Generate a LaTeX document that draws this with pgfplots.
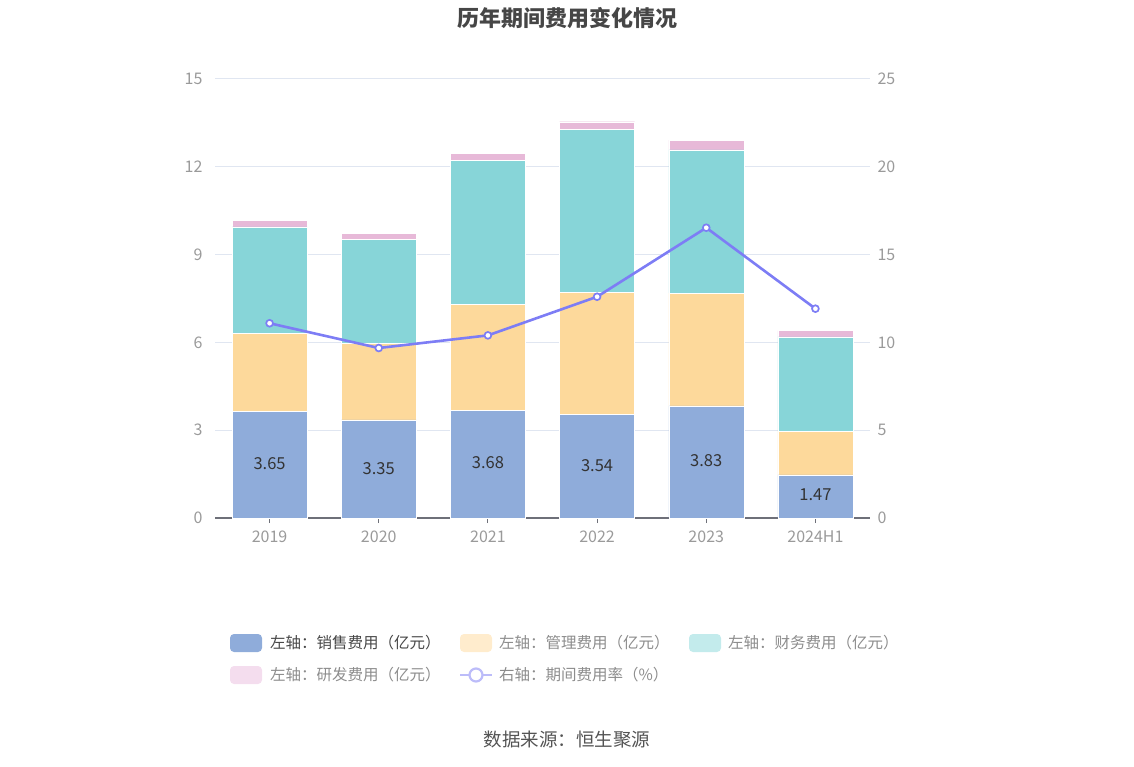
\documentclass[border=0pt]{standalone}
\usepackage{pgfplots}
\pgfplotsset{compat=1.18}
\usepackage{fontspec}
\setmainfont{Noto Sans CJK SC}
\definecolor{salesc}{HTML}{8FACDA}
\definecolor{mgmtc}{HTML}{FDD99B}
\definecolor{finc}{HTML}{87D5D8}
\definecolor{rdc}{HTML}{E7B9D8}
\definecolor{linec}{HTML}{7D7DF5}
\definecolor{mgmtf}{HTML}{FFECCD}
\definecolor{finf}{HTML}{C3EBEC}
\definecolor{rdf}{HTML}{F4DDEE}
\definecolor{linef}{HTML}{BCBCF9}
\definecolor{gridc}{HTML}{E0E6F1}
\definecolor{axisc}{HTML}{6E7079}
\definecolor{tickc}{HTML}{9A9A9A}
\definecolor{titlec}{HTML}{464646}
\definecolor{legdark}{HTML}{464646}
\definecolor{leggray}{HTML}{8C8C8C}
\begin{document}
\begin{tikzpicture}[x=1pt,y=1pt]
\path[use as bounding box] (0,0) rectangle (1134,766);
\pgfplotsset{
  base/.style={
    at={(215pt,248pt)}, anchor=south west,
    width=655pt, height=439pt, scale only axis,
    xmin=-0.5, xmax=5.5,
    /pgf/number format/assume math mode=true,
    ticklabel style={font=\fontsize{16}{19}\selectfont, text=tickc},
  }
}
% bars
\begin{axis}[base,
  ybar stacked, bar width=75pt,
  ymin=0, ymax=15, ytick={0,3,6,9,12,15},
  xtick={0,1,2,3,4,5},
  xticklabels={2019,2020,2021,2022,2023,2024H1},
  axis x line*=bottom, axis y line*=left,
  x axis line style={draw=axisc, line width=1.2pt, -},
  y axis line style={draw=none},
  ytick style={draw=none},
  xtick style={draw=axisc, line width=1pt},
  tick align=outside, major tick length=5pt,
  ymajorgrids, grid style={gridc, line width=1pt},
  yticklabel style={anchor=east, xshift=-4pt},
  xticklabel style={yshift=-4pt},
]
\addplot[fill=salesc, draw=white, line width=0.4pt] coordinates {(0,3.65) (1,3.35) (2,3.68) (3,3.54) (4,3.83) (5,1.47)};
\addplot[fill=mgmtc, draw=white, line width=0.4pt] coordinates {(0,2.66) (1,2.62) (2,3.62) (3,4.18) (4,3.85) (5,1.50)};
\addplot[fill=finc, draw=white, line width=0.4pt] coordinates {(0,3.64) (1,3.56) (2,4.91) (3,5.55) (4,4.90) (5,3.22)};
\addplot[fill=rdc, draw=white, line width=0.4pt] coordinates {(0,0.22) (1,0.20) (2,0.26) (3,0.27) (4,0.33) (5,0.21)};
\end{axis}
% value labels in the middle of the sales bars
\begin{axis}[base, ymin=0, ymax=15, axis lines=none]
\addplot[draw=none, mark=none, nodes near coords, point meta=explicit symbolic,
  every node near coord/.append style={anchor=center, font=\fontsize{16.5}{19}\selectfont, text=black!80}]
  coordinates {(0,1.87) [3.65] (1,1.70) [3.35] (2,1.88) [3.68] (3,1.80) [3.54] (4,1.95) [3.83] (5,0.78) [1.47]};
\end{axis}
% right axis line
\begin{axis}[base,
  ymin=0, ymax=25, ytick={0,5,10,15,20,25},
  axis y line*=right, axis x line=none,
  y axis line style={draw=none}, ytick style={draw=none},
  yticklabel style={anchor=west, xshift=4pt},
]
\addplot[color=linec, line width=2.6pt, mark=*, mark size=3.4pt,
  mark options={fill=white, draw=linec, line width=1.7pt}]
  coordinates {(0,11.09) (1,9.68) (2,10.40) (3,12.60) (4,16.53) (5,11.92)};
\end{axis}
% title
\node[font=\fontsize{22}{26}\selectfont\bfseries, text=titlec] at (567,748) {历年期间费用变化情况};
% legend
\begin{scope}[font=\fontsize{15.5}{18}\selectfont]
\fill[salesc, rounded corners=4pt] (230,114) rectangle (262,132);
\node[anchor=west, inner sep=0, text=legdark] at (270,123) {左轴：销售费用（亿元）};
\fill[mgmtf, rounded corners=4pt] (460,114) rectangle (492,132);
\node[anchor=west, inner sep=0, text=leggray] at (499,123) {左轴：管理费用（亿元）};
\fill[finf, rounded corners=4pt] (689,114) rectangle (721,132);
\node[anchor=west, inner sep=0, text=leggray] at (728,123) {左轴：财务费用（亿元）};
\fill[rdf, rounded corners=4pt] (230,82) rectangle (262,100);
\node[anchor=west, inner sep=0, text=leggray] at (270,91) {左轴：研发费用（亿元）};
\draw[linef, line width=2.2pt] (460,91) -- (492,91);
\draw[linef, line width=2.2pt, fill=white] (476,91) circle (6.5);
\node[anchor=west, inner sep=0, text=leggray] at (499,91) {右轴：期间费用率（\%）};
\end{scope}
\node[font=\fontsize{18.5}{22}\selectfont, text=black!67] at (567,26) {数据来源：恒生聚源};
\end{tikzpicture}
\end{document}
